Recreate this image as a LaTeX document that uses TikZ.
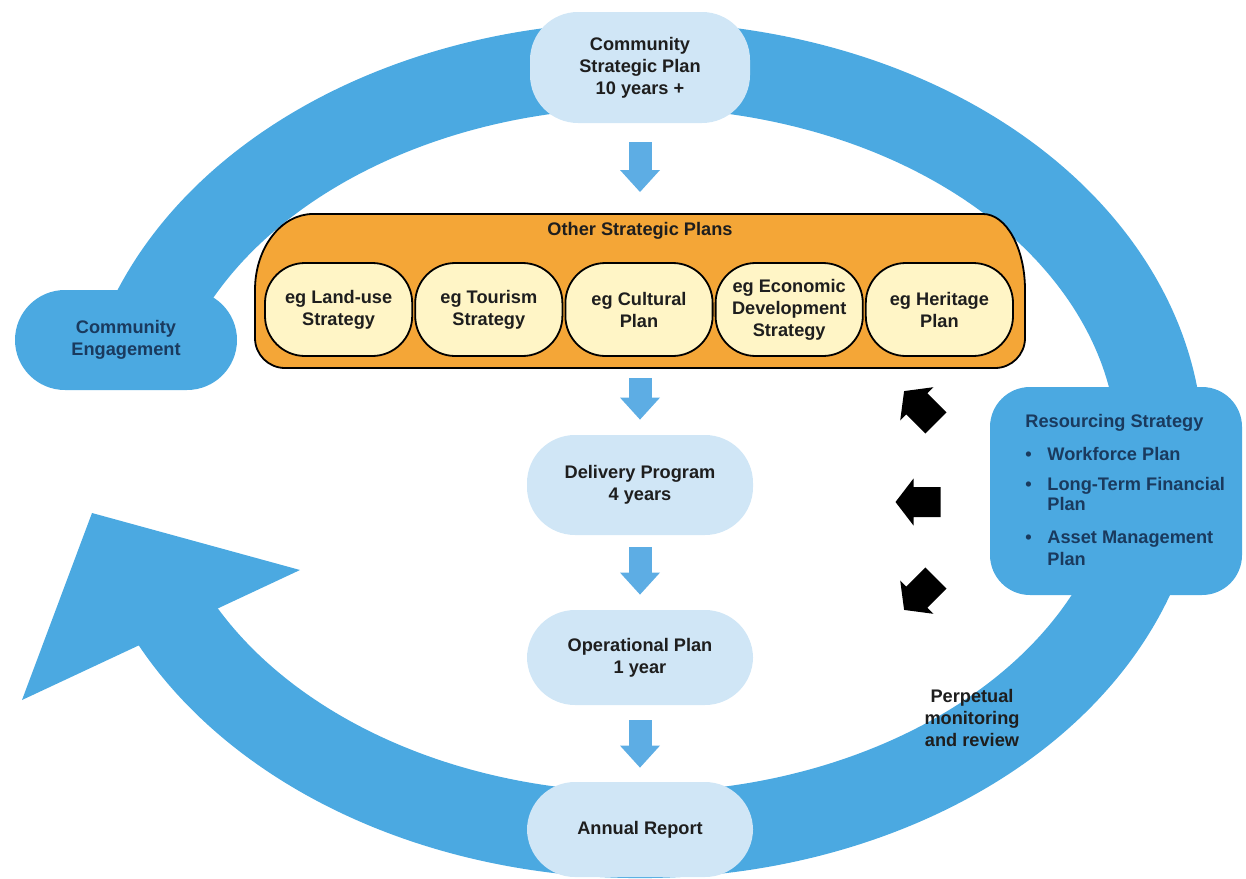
\documentclass[tikz,border=0pt]{standalone}
\usepackage{fontspec}
\setmainfont{Liberation Sans}
\usetikzlibrary{arrows.meta}

\definecolor{ringblue}{RGB}{75,169,225}
\definecolor{paleblue}{RGB}{208,230,246}
\definecolor{stepblue}{RGB}{93,173,228}
\definecolor{planorange}{RGB}{244,166,55}
\definecolor{planyellow}{RGB}{255,245,198}
\definecolor{inknavy}{RGB}{26,58,94}
\definecolor{inkgrey}{RGB}{30,30,30}

\tikzset{
  ring/.style={draw=ringblue, line width=43pt},
  stage/.style={fill=paleblue, rounded corners=24pt, minimum width=113pt, minimum height=50pt, align=center, text=inkgrey},
  subplan/.style={draw=black, line width=0.9pt, fill=planyellow, rounded corners=20pt, minimum width=73.6pt, minimum height=46.5pt, align=center, text=inkgrey, inner sep=1pt},
  bluebox/.style={fill=ringblue, align=center, text=inknavy},
  flowarrow/.style={draw=stepblue, line width=11.5pt, -{Triangle[length=11pt,width=20pt,line width=0pt]}},
}

\begin{document}
\begin{tikzpicture}[x=0.5pt, y=-0.5pt, font=\fontsize{9.1pt}{11pt}\selectfont\bfseries]
    \useasboundingbox (0,0) rectangle (1246,878);

    % Perpetual cycle
    \draw[ring] (145.5,331) arc[start angle=198, end angle=515, x radius=520, y radius=385];
    \fill[ringblue] (92,513) -- (300,570) -- (22,700) -- cycle;

    % Community engagement
    \node[bluebox, rounded corners=25pt, minimum width=111pt, minimum height=50pt] (ce) at (126,340) {Community\\Engagement};

    % Resourcing strategy
    \node[bluebox, rounded corners=20pt, minimum width=126pt, minimum height=104pt] (rs) at (1116,491) {};
    \node[anchor=north west, inner sep=0pt, align=left, text=inknavy] (rstext) at (1025,414)
        {Resourcing Strategy\\[5.5pt]
         \makebox[11pt][l]{\textbullet}Workforce Plan\\[4pt]
         \makebox[11pt][l]{\textbullet}Long-Term Financial\\[-1pt]
         \hspace*{11pt}Plan\\[5.5pt]
         \makebox[11pt][l]{\textbullet}Asset Management\\
         \hspace*{11pt}Plan};

    % Community strategic plan
    \node[stage, minimum width=110pt, minimum height=55.5pt] (csp) at (640,67.5) {Community\\Strategic Plan\\10 years +};

    % Other strategic plans
    \fill[planorange, draw=black, line width=0.9pt]
        (255,290) arc[start angle=180, end angle=270, x radius=58, y radius=76]
        -- (983,214) arc[start angle=270, end angle=360, x radius=42, y radius=76]
        -- (1025,338) arc[start angle=0, end angle=90, radius=30]
        -- (285,368) arc[start angle=90, end angle=180, radius=30] -- cycle;
    \coordinate (ospN) at (640,214);
    \coordinate (ospS) at (640,368);
    \node[text=inkgrey] (osp) at (640,231) {Other Strategic Plans};
    \node[subplan] (landuse) at (338.6,309.5) {eg Land-use\\Strategy};
    \node[subplan] (tourism) at (488.8,309.5) {eg Tourism\\Strategy};
    \node[subplan] (cultural) at (639,309.5) {eg Cultural\\Plan};
    \node[subplan] (economic) at (789.2,309.5) {eg Economic\\Development\\Strategy};
    \node[subplan] (heritage) at (939.4,309.5) {eg Heritage\\Plan};

    % Delivery, operational, annual
    \node[stage] (del) at (640,485) {Delivery Program\\4 years};
    \node[stage, minimum height=47.5pt] (opl) at (640,657.5) {Operational Plan\\1 year};
    \node[stage, minimum height=47.5pt] (arp) at (640,829.5) {Annual Report};

    % Flow down
    \draw[flowarrow, shorten <=9.5pt, shorten >=11pt] (csp.south) -- (ospN);
    \draw[flowarrow, shorten <=5pt, shorten >=7.5pt] (ospS) -- (del.north);
    \draw[flowarrow, shorten <=6pt, shorten >=7.5pt] (del.south) -- (opl.north);
    \draw[flowarrow, shorten <=7.5pt, shorten >=7pt] (opl.south) -- (arp.north);

    % Resourcing feeds
    \foreach \ang/\cx/\cy in {-45/920/407, 0/918/502, 45/920/594}
        \fill[black, shift={(\cx,\cy)}, rotate=\ang]
            (-22.5,0) -- (-4.5,-23.5) -- (-4.5,-15) -- (22.5,-15)
            -- (22.5,15) -- (-4.5,15) -- (-4.5,23.5) -- cycle;

    % Monitoring
    \node[align=center, text=inkgrey] (pmr) at (972,718) {Perpetual\\monitoring\\and review};
\end{tikzpicture}
\end{document}
